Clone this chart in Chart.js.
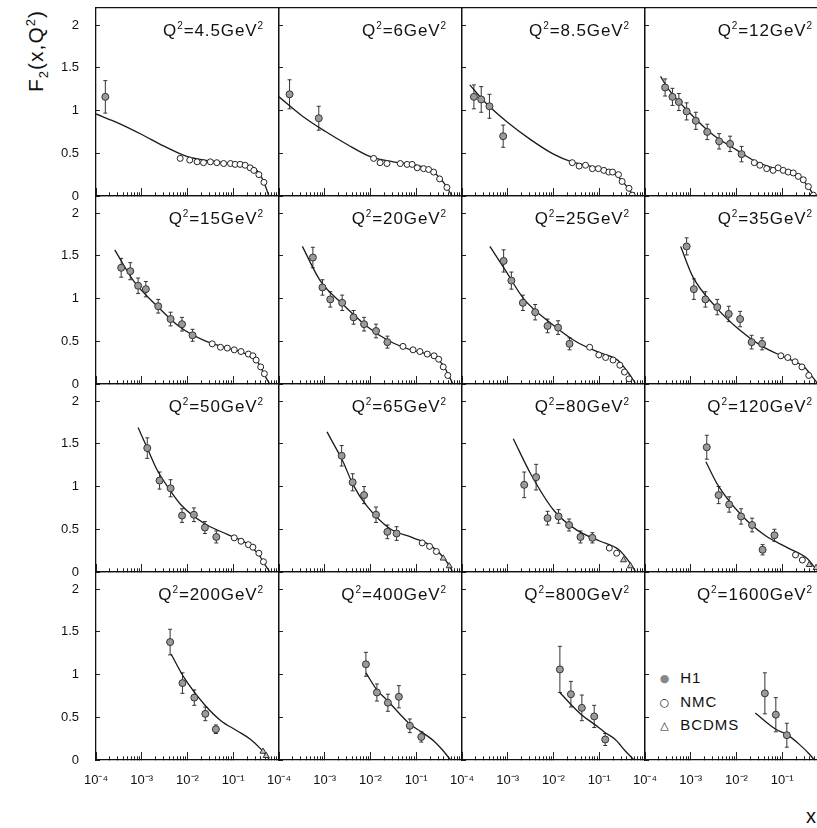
<!DOCTYPE html>
<html>
<head>
<meta charset="utf-8">
<script src="https://cdn.jsdelivr.net/npm/chart.js@4.4.0/dist/chart.umd.min.js"></script>
<style>
  html, body { margin: 0; padding: 0; background: #fff; }
  body { width: 817px; height: 828px; overflow: hidden; position: relative;
         font-family: 'Liberation Sans', Arial, sans-serif; color: #111; }
  canvas { position: absolute; }
  .q2 { position: absolute; font-size: 17px; letter-spacing: 0.9px; line-height: 18px;
        white-space: nowrap; text-align: right; }
  .q2 sup { font-size: 10px; vertical-align: 7px; line-height: 0; }
  .ytitle { position: absolute; left: -24px; top: 38px; width: 110px; height: 26px;
            line-height: 26px; text-align: center; font-size: 21px; letter-spacing: 1px;
            transform: rotate(-90deg); white-space: nowrap; }
  .ytitle sub, .ytitle sup { font-size: 13px; }
  .xtitle { position: absolute; left: 806px; top: 805px; font-size: 20px; }
  .legend { position: absolute; left: 655px; top: 667px; font-size: 15px; letter-spacing: 1px;
            line-height: 22.5px; white-space: nowrap; }
  .legend span { display: inline-block; width: 20px; font-size: 11px; text-align: center;
                 font-family: 'DejaVu Sans', sans-serif; vertical-align: 1px; }
</style>
</head>
<body>
<div class="ytitle">F<sub>2</sub>(x,Q<sup>2</sup>)</div>
<div class="xtitle">x</div>
<div class="legend">
  <div><span style="color:#888">●</span> H1</div>
  <div><span>○</span> NMC</div>
  <div><span>△</span> BCDMS</div>
</div>
<script>
// Q^2 of each panel, read row by row
const q2Labels = ['4.5', '6', '8.5', '12', '15', '20', '25', '35',
                  '50', '65', '80', '120', '200', '400', '800', '1600'];

// H1 points: x, F2, error
const h1X = [
  [1.6e-4],
  [1.7e-4, 7.4e-4],
  [1.82e-4, 2.63e-4, 3.98e-4, 7.94e-4],
  [2.75e-4, 3.98e-4, 5.5e-4, 8.13e-4, 1.29e-3, 2.29e-3, 4.17e-3, 7.24e-3, 1.29e-2],
  [3.55e-4, 5.62e-4, 8.32e-4, 1.23e-3, 2.29e-3, 4.27e-3, 7.59e-3, 1.29e-2],
  [5.5e-4, 8.91e-4, 1.32e-3, 2.4e-3, 4.27e-3, 7.24e-3, 1.32e-2, 2.34e-2],
  [8.13e-4, 1.2e-3, 2.14e-3, 3.98e-3, 7.41e-3, 1.26e-2, 2.24e-2],
  [8.13e-4, 1.17e-3, 2.09e-3, 3.8e-3, 6.76e-3, 1.2e-2, 2.14e-2, 3.63e-2],
  [1.32e-3, 2.45e-3, 4.27e-3, 7.59e-3, 1.38e-2, 2.4e-2, 4.27e-2],
  [2.34e-3, 4.07e-3, 7.24e-3, 1.32e-2, 2.34e-2, 3.72e-2],
  [2.29e-3, 4.17e-3, 7.41e-3, 1.29e-2, 2.19e-2, 3.89e-2, 7.08e-2],
  [2.24e-3, 4.07e-3, 6.92e-3, 1.26e-2, 2.19e-2, 3.72e-2, 6.76e-2],
  [4.17e-3, 7.76e-3, 1.41e-2, 2.45e-2, 4.17e-2],
  [7.94e-3, 1.38e-2, 2.4e-2, 4.17e-2, 7.24e-2, 0.129],
  [1.38e-2, 2.4e-2, 4.17e-2, 7.76e-2, 0.135],
  [4.17e-2, 7.24e-2, 0.126]
];
const h1F2 = [
  [1.16],
  [1.19, 0.91],
  [1.16, 1.13, 1.05, 0.70],
  [1.27, 1.16, 1.10, 0.99, 0.88, 0.75, 0.64, 0.61, 0.49],
  [1.36, 1.32, 1.15, 1.11, 0.91, 0.76, 0.70, 0.57],
  [1.48, 1.13, 0.99, 0.95, 0.78, 0.70, 0.62, 0.49],
  [1.44, 1.21, 0.95, 0.84, 0.68, 0.66, 0.47],
  [1.61, 1.11, 0.99, 0.90, 0.82, 0.76, 0.49, 0.47],
  [1.45, 1.07, 0.98, 0.66, 0.67, 0.52, 0.41],
  [1.36, 1.05, 0.90, 0.67, 0.47, 0.45],
  [1.02, 1.11, 0.63, 0.65, 0.55, 0.41, 0.40],
  [1.46, 0.90, 0.79, 0.65, 0.55, 0.26, 0.43],
  [1.38, 0.90, 0.73, 0.54, 0.36],
  [1.12, 0.79, 0.67, 0.74, 0.40, 0.27],
  [1.06, 0.77, 0.61, 0.51, 0.24],
  [0.78, 0.53, 0.29]
];
const h1Err = [
  [0.19],
  [0.17, 0.14],
  [0.14, 0.15, 0.14, 0.13],
  [0.10, 0.10, 0.10, 0.10, 0.10, 0.09, 0.09, 0.09, 0.09],
  [0.11, 0.10, 0.09, 0.09, 0.08, 0.08, 0.08, 0.07],
  [0.12, 0.09, 0.09, 0.09, 0.08, 0.08, 0.08, 0.07],
  [0.13, 0.10, 0.09, 0.09, 0.08, 0.08, 0.07],
  [0.10, 0.12, 0.09, 0.09, 0.09, 0.09, 0.08, 0.07],
  [0.12, 0.10, 0.10, 0.08, 0.08, 0.07, 0.07],
  [0.12, 0.10, 0.10, 0.09, 0.08, 0.08],
  [0.15, 0.15, 0.08, 0.08, 0.07, 0.07, 0.06],
  [0.14, 0.10, 0.09, 0.09, 0.08, 0.06, 0.07],
  [0.15, 0.12, 0.09, 0.08, 0.05],
  [0.14, 0.10, 0.10, 0.13, 0.08, 0.06],
  [0.27, 0.15, 0.15, 0.13, 0.07],
  [0.24, 0.20, 0.14]
];

// NMC points
const nmcX = [
  [6.92e-3, 1.12e-2, 1.62e-2, 2.24e-2, 3.16e-2, 4.37e-2, 6.17e-2, 8.71e-2, 0.110, 0.141, 0.182, 0.234, 0.282, 0.363, 0.468],
  [1.17e-2, 1.62e-2, 2.29e-2, 4.47e-2, 6.31e-2, 8.13e-2, 0.105, 0.145, 0.186, 0.240, 0.324, 0.468],
  [2.57e-2, 3.63e-2, 5.01e-2, 7.08e-2, 9.55e-2, 0.126, 0.162, 0.195, 0.263, 0.316, 0.447, 0.525],
  [2.45e-2, 3.24e-2, 4.57e-2, 6.31e-2, 8.13e-2, 0.105, 0.135, 0.174, 0.224, 0.288, 0.372, 0.479],
  [3.47e-2, 5.25e-2, 7.41e-2, 0.105, 0.148, 0.214, 0.269, 0.316, 0.398, 0.479],
  [5.13e-2, 8.51e-2, 0.120, 0.174, 0.245, 0.309, 0.389, 0.490],
  [6.17e-2, 9.77e-2, 0.138, 0.200, 0.282, 0.355, 0.447],
  [9.33e-2, 0.132, 0.191, 0.269, 0.380],
  [0.105, 0.148, 0.214, 0.269, 0.363, 0.457],
  [0.135, 0.195, 0.275],
  [0.166, 0.240],
  [0.195, 0.275],
  [], [], [], []
];
const nmcF2 = [
  [0.44, 0.42, 0.40, 0.39, 0.40, 0.39, 0.38, 0.38, 0.37, 0.37, 0.36, 0.33, 0.30, 0.25, 0.16],
  [0.44, 0.39, 0.38, 0.38, 0.37, 0.37, 0.33, 0.32, 0.31, 0.28, 0.20, 0.10],
  [0.39, 0.35, 0.36, 0.32, 0.32, 0.30, 0.28, 0.28, 0.25, 0.17, 0.09, 0.01],
  [0.39, 0.36, 0.32, 0.30, 0.33, 0.30, 0.28, 0.27, 0.23, 0.19, 0.11, 0.01],
  [0.47, 0.43, 0.42, 0.40, 0.38, 0.35, 0.33, 0.28, 0.20, 0.12],
  [0.44, 0.40, 0.38, 0.35, 0.33, 0.29, 0.20, 0.10],
  [0.43, 0.34, 0.31, 0.28, 0.22, 0.14, 0.06],
  [0.33, 0.31, 0.26, 0.20, 0.10],
  [0.40, 0.36, 0.32, 0.29, 0.22, 0.12],
  [0.34, 0.30, 0.24],
  [0.28, 0.22],
  [0.20, 0.14],
  [], [], [], []
];

// BCDMS points
const bcdmsX = [[], [], [], [], [], [], [], [], [],
  [0.389, 0.525], [0.339, 0.479], [0.389, 0.550], [0.447, 0.525], [], [], []];
const bcdmsF2 = [[], [], [], [], [], [], [], [], [],
  [0.16, 0.07], [0.14, 0.07], [0.085, 0.05], [0.10, 0.05], [], [], []];

// fitted curve, sampled along each panel
const fitX = [
  [1e-4, 3.16e-4, 1e-3, 3.16e-3, 0.01, 0.0316, 0.1, 0.2, 0.316, 0.398, 0.501, 0.603],
  [1e-4, 3.16e-4, 1e-3, 3.16e-3, 0.01, 0.0316, 0.1, 0.2, 0.316, 0.447, 0.603],
  [1.48e-4, 3.16e-4, 1e-3, 3.16e-3, 0.01, 0.0251, 0.0631, 0.126, 0.2, 0.316, 0.398, 0.575],
  [2.19e-4, 3.16e-4, 1e-3, 3.16e-3, 0.01, 0.0251, 0.0631, 0.126, 0.224, 0.355, 0.501],
  [2.57e-4, 6.76e-4, 2.19e-3, 7.08e-3, 2.29e-2, 7.41e-2, 0.191, 0.339, 0.537, 0.631],
  [3.24e-4, 7.94e-4, 2.51e-3, 8.13e-3, 2.63e-2, 8.51e-2, 0.219, 0.389, 0.501, 0.631],
  [4.07e-4, 9.12e-4, 2.29e-3, 9.33e-3, 3.02e-2, 9.77e-2, 0.251, 0.447, 0.631],
  [6.03e-4, 1.10e-3, 3.55e-3, 1.12e-2, 3.63e-2, 0.117, 0.302, 0.447, 0.603],
  [8.32e-4, 1.32e-3, 2.19e-3, 3.98e-3, 7.08e-3, 2.29e-2, 7.41e-2, 0.191, 0.355, 0.501, 0.631],
  [1.12e-3, 2.51e-3, 4.17e-3, 8.13e-3, 2.63e-2, 8.51e-2, 0.219, 0.437, 0.631],
  [1.32e-3, 3.16e-3, 1.02e-2, 3.24e-2, 0.105, 0.269, 0.479, 0.631],
  [2.14e-3, 3.89e-3, 1.26e-2, 4.17e-2, 0.135, 0.347, 0.501, 0.631],
  [4.37e-3, 8.51e-3, 2.34e-2, 5.37e-2, 0.123, 0.240, 0.398, 0.562, 0.631],
  [7.94e-3, 1.38e-2, 2.4e-2, 4.17e-2, 7.24e-2, 0.129, 0.245, 0.372, 0.562],
  [1.38e-2, 2.4e-2, 4.07e-2, 7.76e-2, 0.135, 0.224, 0.372, 0.575],
  [2.57e-2, 7.24e-2, 0.126, 0.240, 0.389, 0.501]
];
const fitF2 = [
  [0.96, 0.85, 0.72, 0.58, 0.46, 0.41, 0.38, 0.36, 0.31, 0.24, 0.12, 0],
  [1.16, 0.94, 0.76, 0.60, 0.46, 0.40, 0.36, 0.31, 0.22, 0.12, 0],
  [1.30, 1.10, 0.86, 0.66, 0.49, 0.40, 0.35, 0.31, 0.27, 0.18, 0.11, 0],
  [1.40, 1.26, 0.96, 0.71, 0.54, 0.41, 0.33, 0.29, 0.23, 0.12, 0],
  [1.57, 1.20, 0.91, 0.66, 0.51, 0.42, 0.35, 0.26, 0.06, 0],
  [1.61, 1.21, 0.93, 0.68, 0.50, 0.39, 0.33, 0.22, 0.11, 0],
  [1.61, 1.32, 0.99, 0.70, 0.50, 0.37, 0.28, 0.12, 0],
  [1.61, 1.26, 0.90, 0.64, 0.44, 0.31, 0.20, 0.09, 0],
  [1.69, 1.45, 1.19, 0.97, 0.79, 0.57, 0.44, 0.34, 0.21, 0.08, 0],
  [1.64, 1.29, 1.02, 0.78, 0.51, 0.40, 0.30, 0.14, 0],
  [1.56, 1.15, 0.72, 0.49, 0.36, 0.26, 0.10, 0],
  [1.29, 1.02, 0.67, 0.43, 0.28, 0.16, 0.06, 0],
  [1.24, 0.96, 0.65, 0.46, 0.34, 0.24, 0.13, 0.03, 0],
  [1.02, 0.82, 0.69, 0.55, 0.42, 0.33, 0.22, 0.12, 0],
  [0.79, 0.65, 0.53, 0.42, 0.32, 0.24, 0.105, 0],
  [0.55, 0.36, 0.30, 0.18, 0.07, 0]
];

// axes
const yTicks = [0, 0.5, 1, 1.5, 2];
const xDecades = [1e-4, 1e-3, 1e-2, 1e-1];
const xTickLabels = ['10⁻⁴', '10⁻³', '10⁻²', '10⁻¹'];

// panel grid on the page
const colLeft = [96, 279, 462, 645];
const rowTop = [8, 196, 384, 572];
const PW = 183, PH = 188;
const ML = 60, MR = 10, MT = 10, MB = 36;

Chart.defaults.font.family = "'Liberation Sans', Arial, sans-serif";

const xTickValues = [];
xDecades.forEach(d => { for (let m = 1; m <= 9; m++) xTickValues.push(d * m); });
xTickValues.push(1);

function decadeIndex(v) {
    const l = Math.log10(v);
    if (Math.abs(l - Math.round(l)) > 1e-6) return -1;
    return xDecades.findIndex(d => Math.abs(Math.log10(d) - l) < 1e-6);
}

function pts(xs, ys) {
    return xs.map((x, i) => ({ x: x, y: ys[i] }));
}

// each error bar is a two-point segment, gaps between them
function errorBars(xs, ys, es) {
    const out = [];
    xs.forEach((x, i) => {
        out.push({ x: x, y: ys[i] - es[i] }, { x: x, y: ys[i] + es[i] }, { x: x, y: null });
    });
    return out;
}

const frame = { display: true, color: '#111', width: 1.3 };

q2Labels.forEach((q2, k) => {
    const r = Math.floor(k / 4), c = k % 4;

    const canvas = document.createElement('canvas');
    canvas.width = PW + ML + MR;
    canvas.height = PH + MT + MB;
    canvas.style.left = (colLeft[c] - ML) + 'px';
    canvas.style.top = (rowTop[r] - MT) + 'px';
    document.body.appendChild(canvas);

    new Chart(canvas, {
        type: 'line',
        data: {
            datasets: [
                {
                    label: 'H1', data: pts(h1X[k], h1F2[k]), showLine: false,
                    pointStyle: 'circle', pointRadius: 3.5,
                    pointBackgroundColor: '#9a9a9a', pointBorderColor: '#333', pointBorderWidth: 1,
                    order: 0
                },
                {
                    label: 'NMC', data: pts(nmcX[k], nmcF2[k]), showLine: false,
                    pointStyle: 'circle', pointRadius: 3,
                    pointBackgroundColor: '#fff', pointBorderColor: '#222', pointBorderWidth: 1,
                    order: 1
                },
                {
                    label: 'BCDMS', data: pts(bcdmsX[k], bcdmsF2[k]), showLine: false,
                    pointStyle: 'triangle', pointRadius: 3.5,
                    pointBackgroundColor: '#c4c4c4', pointBorderColor: '#333', pointBorderWidth: 1,
                    order: 1
                },
                {
                    label: 'fit', data: pts(fitX[k], fitF2[k]),
                    borderColor: '#1a1a1a', borderWidth: 1.3, pointRadius: 0,
                    cubicInterpolationMode: 'monotone', fill: false,
                    order: 2
                },
                {
                    label: 'errors', data: errorBars(h1X[k], h1F2[k], h1Err[k]),
                    borderColor: '#333', borderWidth: 1, spanGaps: false,
                    pointStyle: 'line', pointRadius: 2, pointBorderColor: '#333', pointBorderWidth: 1,
                    order: 3
                }
            ]
        },
        options: {
            responsive: false,
            animation: false,
            devicePixelRatio: 1,
            events: [],
            layout: { padding: 0, autoPadding: false },
            plugins: { legend: { display: false }, tooltip: { enabled: false } },
            scales: {
                x: {
                    type: 'logarithmic', position: 'bottom', min: 1e-4, max: 1,
                    afterBuildTicks: s => { s.ticks = xTickValues.map(v => ({ value: v })); },
                    afterFit: s => { s.height = MB; s.paddingLeft = 0; s.paddingRight = 0; },
                    ticks: {
                        display: r === 3, autoSkip: false, maxRotation: 0, minRotation: 0,
                        padding: 21, color: '#111', font: { size: 13 },
                        callback: v => {
                            const i = decadeIndex(v);
                            return i >= 0 ? xTickLabels[i] : '';
                        }
                    },
                    grid: {
                        drawOnChartArea: false, drawTicks: true, tickLength: -8,
                        tickColor: '#222', tickWidth: 1,
                        tickBorderDash: ctx => (decadeIndex(ctx.tick.value) >= 0 || ctx.tick.value === 1) ? [] : [4, 40]
                    },
                    border: frame
                },
                y: {
                    type: 'linear', position: 'left', min: 0, max: 2.2,
                    afterBuildTicks: s => { s.ticks = yTicks.map(v => ({ value: v })); },
                    afterFit: s => { s.width = ML; s.paddingTop = 0; s.paddingBottom = 0; },
                    ticks: {
                        display: c === 0, padding: 21, color: '#111', font: { size: 13 },
                        callback: v => String(v)
                    },
                    grid: { drawOnChartArea: false, drawTicks: true, tickLength: -4, tickColor: '#222' },
                    border: frame
                },
                xTop: {
                    type: 'linear', position: 'top', min: 0, max: 1,
                    afterFit: s => { s.height = MT; },
                    ticks: { display: false },
                    grid: { drawOnChartArea: false, drawTicks: false },
                    border: frame
                },
                yRight: {
                    type: 'linear', position: 'right', min: 0, max: 1,
                    afterFit: s => { s.width = MR; },
                    ticks: { display: false },
                    grid: { drawOnChartArea: false, drawTicks: false },
                    border: frame
                }
            }
        }
    });

    const lab = document.createElement('div');
    lab.className = 'q2';
    lab.innerHTML = 'Q<sup>2</sup>=' + q2 + 'GeV<sup>2</sup>';
    lab.style.left = colLeft[c] + 'px';
    lab.style.width = (PW - 15) + 'px';
    lab.style.top = (rowTop[r] + 14) + 'px';
    document.body.appendChild(lab);
});
</script>
</body>
</html>
